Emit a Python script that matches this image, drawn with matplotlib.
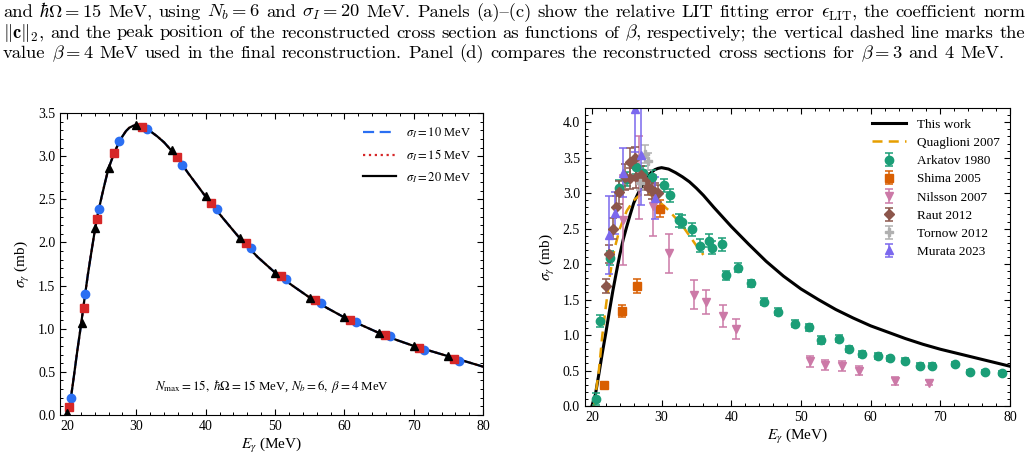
import numpy as np
import matplotlib
matplotlib.use("Agg")
import matplotlib.pyplot as plt
from matplotlib.ticker import MultipleLocator

plt.rcParams["font.family"] = ["Liberation Serif", "DejaVu Serif"]
plt.rcParams["mathtext.fontset"] = "stix"

# ---- reconstructed cross section (same for sigma_I = 10, 15, 20 MeV and "This work") ----
E_CURVE = [20.0, 20.5, 21.0, 21.5, 22.0, 22.5, 23.0, 23.5, 24.0, 24.5, 25.0, 25.5,
           26.0, 26.5, 27.0, 27.5, 28.0, 28.5, 29.0, 29.5, 30.0, 31.0, 32.0, 33.0,
           34.0, 35.0, 36.0, 37.5, 40.0, 42.5, 45.0, 47.5, 50.0, 52.5, 55.0, 57.5,
           60.0, 62.5, 65.0, 67.5, 70.0, 72.5, 75.0, 77.5, 80.0]
SIG_CURVE = [0.00, 0.16, 0.45, 0.75, 1.03, 1.33, 1.62, 1.88, 2.13, 2.35, 2.53, 2.70,
             2.86, 2.97, 3.07, 3.16, 3.23, 3.29, 3.33, 3.35, 3.36, 3.34, 3.29, 3.23,
             3.16, 3.07, 2.97, 2.80, 2.53, 2.28, 2.04, 1.83, 1.65, 1.50, 1.36, 1.24,
             1.13, 1.04, 0.95, 0.87, 0.80, 0.74, 0.68, 0.62, 0.56]

# markers on the three sigma_I curves
E_M10 = [20.6, 22.6, 24.6, 27.5, 31.6, 36.6, 41.6, 46.6, 51.6, 56.6, 61.6, 66.6, 71.5, 76.5]
S_M10 = [0.20, 1.40, 2.39, 3.17, 3.31, 2.90, 2.39, 1.94, 1.58, 1.30, 1.08, 0.91, 0.75, 0.63]
E_M15 = [20.3, 22.4, 24.3, 26.8, 30.8, 35.8, 40.8, 45.75, 50.8, 55.8, 60.8, 65.8, 70.7, 75.8]
S_M15 = [0.09, 1.24, 2.27, 3.04, 3.34, 2.99, 2.46, 1.99, 1.61, 1.33, 1.10, 0.93, 0.78, 0.65]
E_M20 = [20.0, 22.1, 24.1, 26.0, 30.0, 35.1, 40.1, 45.0, 50.0, 55.0, 60.0, 65.0, 70.0, 75.0]
S_M20 = [0.02, 1.07, 2.17, 2.86, 3.36, 3.07, 2.54, 2.05, 1.65, 1.36, 1.13, 0.95, 0.80, 0.68]

# ---- Quaglioni 2007 ----
E_QUAG = [20.3, 21.0, 21.5, 22.0, 22.6, 23.2, 24.0, 25.0, 26.0, 27.0, 28.0, 29.0,
          30.0, 31.0, 32.0, 33.0, 34.0, 35.0, 36.0]
S_QUAG = [0.00, 0.50, 1.00, 1.40, 1.85, 2.20, 2.50, 2.75, 2.90, 2.98, 3.00, 2.94,
          2.85, 2.76, 2.65, 2.54, 2.40, 2.26, 2.13]

# ---- experimental data ----
E_ARK = [20.6, 21.15, 22.6, 23.9, 25.1, 26.3, 27.4, 28.6, 30.3, 31.2, 32.5, 33.0,
         34.3, 35.5, 36.8, 37.3, 38.6, 39.2, 40.9, 42.9, 44.7, 46.7, 49.1, 51.1,
         52.9, 55.4, 56.9, 58.8, 61.0, 62.8, 65.0, 67.1, 68.8, 72.1, 74.3, 76.4, 78.8]
S_ARK = [0.10, 1.20, 2.09, 3.08, 3.20, 3.37, 3.28, 3.23, 3.11, 2.97, 2.62, 2.60,
         2.49, 2.26, 2.33, 2.23, 2.28, 1.84, 1.95, 1.73, 1.47, 1.33, 1.16, 1.11,
         0.93, 0.95, 0.80, 0.73, 0.70, 0.67, 0.64, 0.57, 0.57, 0.59, 0.48, 0.475, 0.47]
D_ARK = [0.08, 0.08, 0.10, 0.10, 0.10, 0.10, 0.10, 0.10, 0.09, 0.09, 0.09, 0.09,
         0.09, 0.09, 0.09, 0.09, 0.09, 0.06, 0.06, 0.05, 0.05, 0.05, 0.05, 0.05,
         0.05, 0.05, 0.04, 0.04, 0.04, 0.04, 0.04, 0.03, 0.03, 0.03, 0.03, 0.03, 0.03]

E_SHIMA = [21.8, 24.3, 26.5, 29.8]
S_SHIMA = [0.29, 1.34, 1.69, 2.78]
D_SHIMA = [0.02, 0.09, 0.10, 0.12]

E_NIL = [24.5, 26.7, 28.8, 31.1, 34.6, 36.4, 38.8, 40.7, 51.3, 53.5, 55.9, 58.3, 63.5, 68.4]
S_NIL = [2.62, 3.22, 2.82, 2.15, 1.57, 1.47, 1.27, 1.09, 0.63, 0.58, 0.57, 0.50, 0.35, 0.33]
D_NIL = [0.63, 0.59, 0.43, 0.27, 0.20, 0.17, 0.16, 0.14, 0.08, 0.07, 0.07, 0.07, 0.06, 0.03]

E_RAUT = [21.97, 22.45, 22.97, 23.45, 23.93, 24.7, 25.5, 26.2, 25.5, 26.4, 27.1,
          27.6, 28.1, 28.6, 29.0, 29.5]
S_RAUT = [1.69, 2.14, 2.50, 2.81, 3.01, 3.23, 3.44, 3.50, 3.21, 3.23, 3.26,
          3.17, 3.09, 3.04, 3.02, 3.00]
D_RAUT = [0.10, 0.13, 0.15, 0.15, 0.16, 0.18, 0.20, 0.15, 0.15, 0.15, 0.12,
          0.12, 0.12, 0.12, 0.12, 0.12]

E_TORN = [26.9, 27.6, 28.0]
S_TORN = [3.15, 3.55, 3.45]
D_TORN = [0.10, 0.13, 0.12]

E_MUR = [22.45, 23.35, 24.4, 26.2, 27.0, 29.05]
S_MUR = [2.41, 2.72, 3.29, 4.18, 3.54, 2.93]
D_MUR = [0.55, 0.30, 0.35, 0.60, 0.70, 0.30]

# "{" is the en dash slot of the TeX cmr10 font
CAPTION = [
    r"and $\hbar\Omega = 15$ MeV, using $N_b = 6$ and $\sigma_I = 20$ MeV. Panels (a){(c) show the relative LIT fitting error $\epsilon_{\rm LIT}$, the coefficient norm",
    r"$\|\mathbf{c}\|_2$, and the peak position of the reconstructed cross section as functions of $\beta$, respectively; the vertical dashed line marks the",
    r"value $\beta = 4$ MeV used in the final reconstruction. Panel (d) compares the reconstructed cross sections for $\beta = 3$ and 4 MeV.",
]


def split_words(line):
    words, cur, inmath = [], "", False
    for ch in line:
        if ch == "$":
            inmath = not inmath
        if ch == " " and not inmath:
            words.append(cur)
            cur = ""
        else:
            cur += ch
    words.append(cur)
    return words


def caption_line(fig, renderer, line, y_px, x0, x1, justify, size):
    W, H = fig.bbox.width, fig.bbox.height
    kw = dict(fontsize=size, va="baseline", ha="left",
              family=["cmr10", "DejaVu Serif"], math_fontfamily="cm")
    words = split_words(line)
    texts = [fig.text(0, 1 - y_px / H, w, **kw) for w in words]
    widths = [t.get_window_extent(renderer).width for t in texts]
    if justify:
        gap = (x1 - x0 - sum(widths)) / (len(words) - 1)
    else:
        sp = fig.text(0, 0, "a a", **kw)
        sp2 = fig.text(0, 0, "aa", **kw)
        gap = sp.get_window_extent(renderer).width - sp2.get_window_extent(renderer).width
        sp.remove()
        sp2.remove()
    x = x0
    for t, w in zip(texts, widths):
        t.set_x(x / W)
        x += w + gap


def style_axis(ax, ymajor):
    ax.tick_params(which="both", direction="in", top=True, right=True, labelsize=10)
    ax.tick_params(which="major", length=4.5, width=0.8)
    ax.tick_params(which="minor", length=2.5, width=0.7)
    ax.xaxis.set_major_locator(MultipleLocator(10))
    ax.xaxis.set_minor_locator(MultipleLocator(2))
    ax.yaxis.set_major_locator(MultipleLocator(ymajor))
    ax.yaxis.set_minor_locator(MultipleLocator(0.1))
    ax.set_xlabel(r"$E_\gamma$ (MeV)", fontsize=11, labelpad=2)
    ax.set_ylabel(r"$\sigma_\gamma$ (mb)", fontsize=11, labelpad=4)


fig = plt.figure(figsize=(10.28, 4.74), dpi=100)
renderer = fig.canvas.get_renderer()

for i, line in enumerate(CAPTION):
    caption_line(fig, renderer, line, 17 + i * 20.5, 3, 1025, i < 2, 13.35)

# ---- left panel ----
ax1 = fig.add_axes([0.0584, 0.1245, 0.4116, 0.6371])
ax1.plot(E_CURVE, SIG_CURVE, ls=(0, (5, 2.5)), color="#2b6ff2", lw=1.6, label=r"$\sigma_I = 10$ MeV")
ax1.plot(E_CURVE, SIG_CURVE, ls=":", color="#d62728", lw=1.6, label=r"$\sigma_I = 15$ MeV")
ax1.plot(E_CURVE, SIG_CURVE, ls="-", color="black", lw=1.6, label=r"$\sigma_I = 20$ MeV")
ax1.plot(E_M10, S_M10, "o", color="#2b6ff2", ms=6, zorder=3)
ax1.plot(E_M15, S_M15, "s", color="#d62728", ms=6, zorder=3)
ax1.plot(E_M20, S_M20, "^", color="black", ms=6, zorder=4)
ax1.set_xlim(19, 80)
ax1.set_ylim(0, 3.5)
style_axis(ax1, 0.5)
ax1.legend(loc="upper right", frameon=False, fontsize=9, handlelength=2.6,
           borderaxespad=0.6, labelspacing=0.55)
ax1.text(0.5, 0.095, r"$N_{\rm max} = 15,\ \hbar\Omega = 15$ MeV, $N_b = 6,\ \beta = 4$ MeV",
         transform=ax1.transAxes, ha="center", va="center", fontsize=9.3)

# ---- right panel ----
ax2 = fig.add_axes([0.569, 0.1435, 0.4135, 0.6285])
ax2.plot(E_CURVE, SIG_CURVE, color="black", lw=2.2, label="This work", zorder=2)
ax2.plot(E_QUAG, S_QUAG, ls=(0, (4, 2.5)), color="#e69f00", lw=1.8, label="Quaglioni 2007", zorder=2)
eb = dict(capsize=3, elinewidth=1.1, capthick=1.1, ms=6, ls="none")
ax2.errorbar(E_ARK, S_ARK, yerr=D_ARK, fmt="o", color="#1b9e77", label="Arkatov 1980", **eb)
ax2.errorbar(E_SHIMA, S_SHIMA, yerr=D_SHIMA, fmt="s", color="#d95f02", label="Shima 2005", **eb)
ax2.errorbar(E_NIL, S_NIL, yerr=D_NIL, fmt="v", color="#cc79a7", label="Nilsson 2007", **eb)
ax2.errorbar(E_RAUT, S_RAUT, yerr=D_RAUT, fmt="D", color="#8c564b", label="Raut 2012",
             capsize=3, elinewidth=1.1, capthick=1.1, ms=5.5, ls="none")
ax2.errorbar(E_TORN, S_TORN, yerr=D_TORN, fmt="P", color="#b0b0b0", label="Tornow 2012", **eb)
ax2.errorbar(E_MUR, S_MUR, yerr=D_MUR, fmt="^", color="#7b68ee", label="Murata 2023", **eb)
ax2.set_xlim(19, 80)
ax2.set_ylim(0, 4.2)
style_axis(ax2, 0.5)
ax2.legend(loc="upper right", frameon=False, fontsize=9.5, handlelength=2.6,
           borderaxespad=0.4, labelspacing=0.45)

fig.savefig("out.png", dpi=100)
